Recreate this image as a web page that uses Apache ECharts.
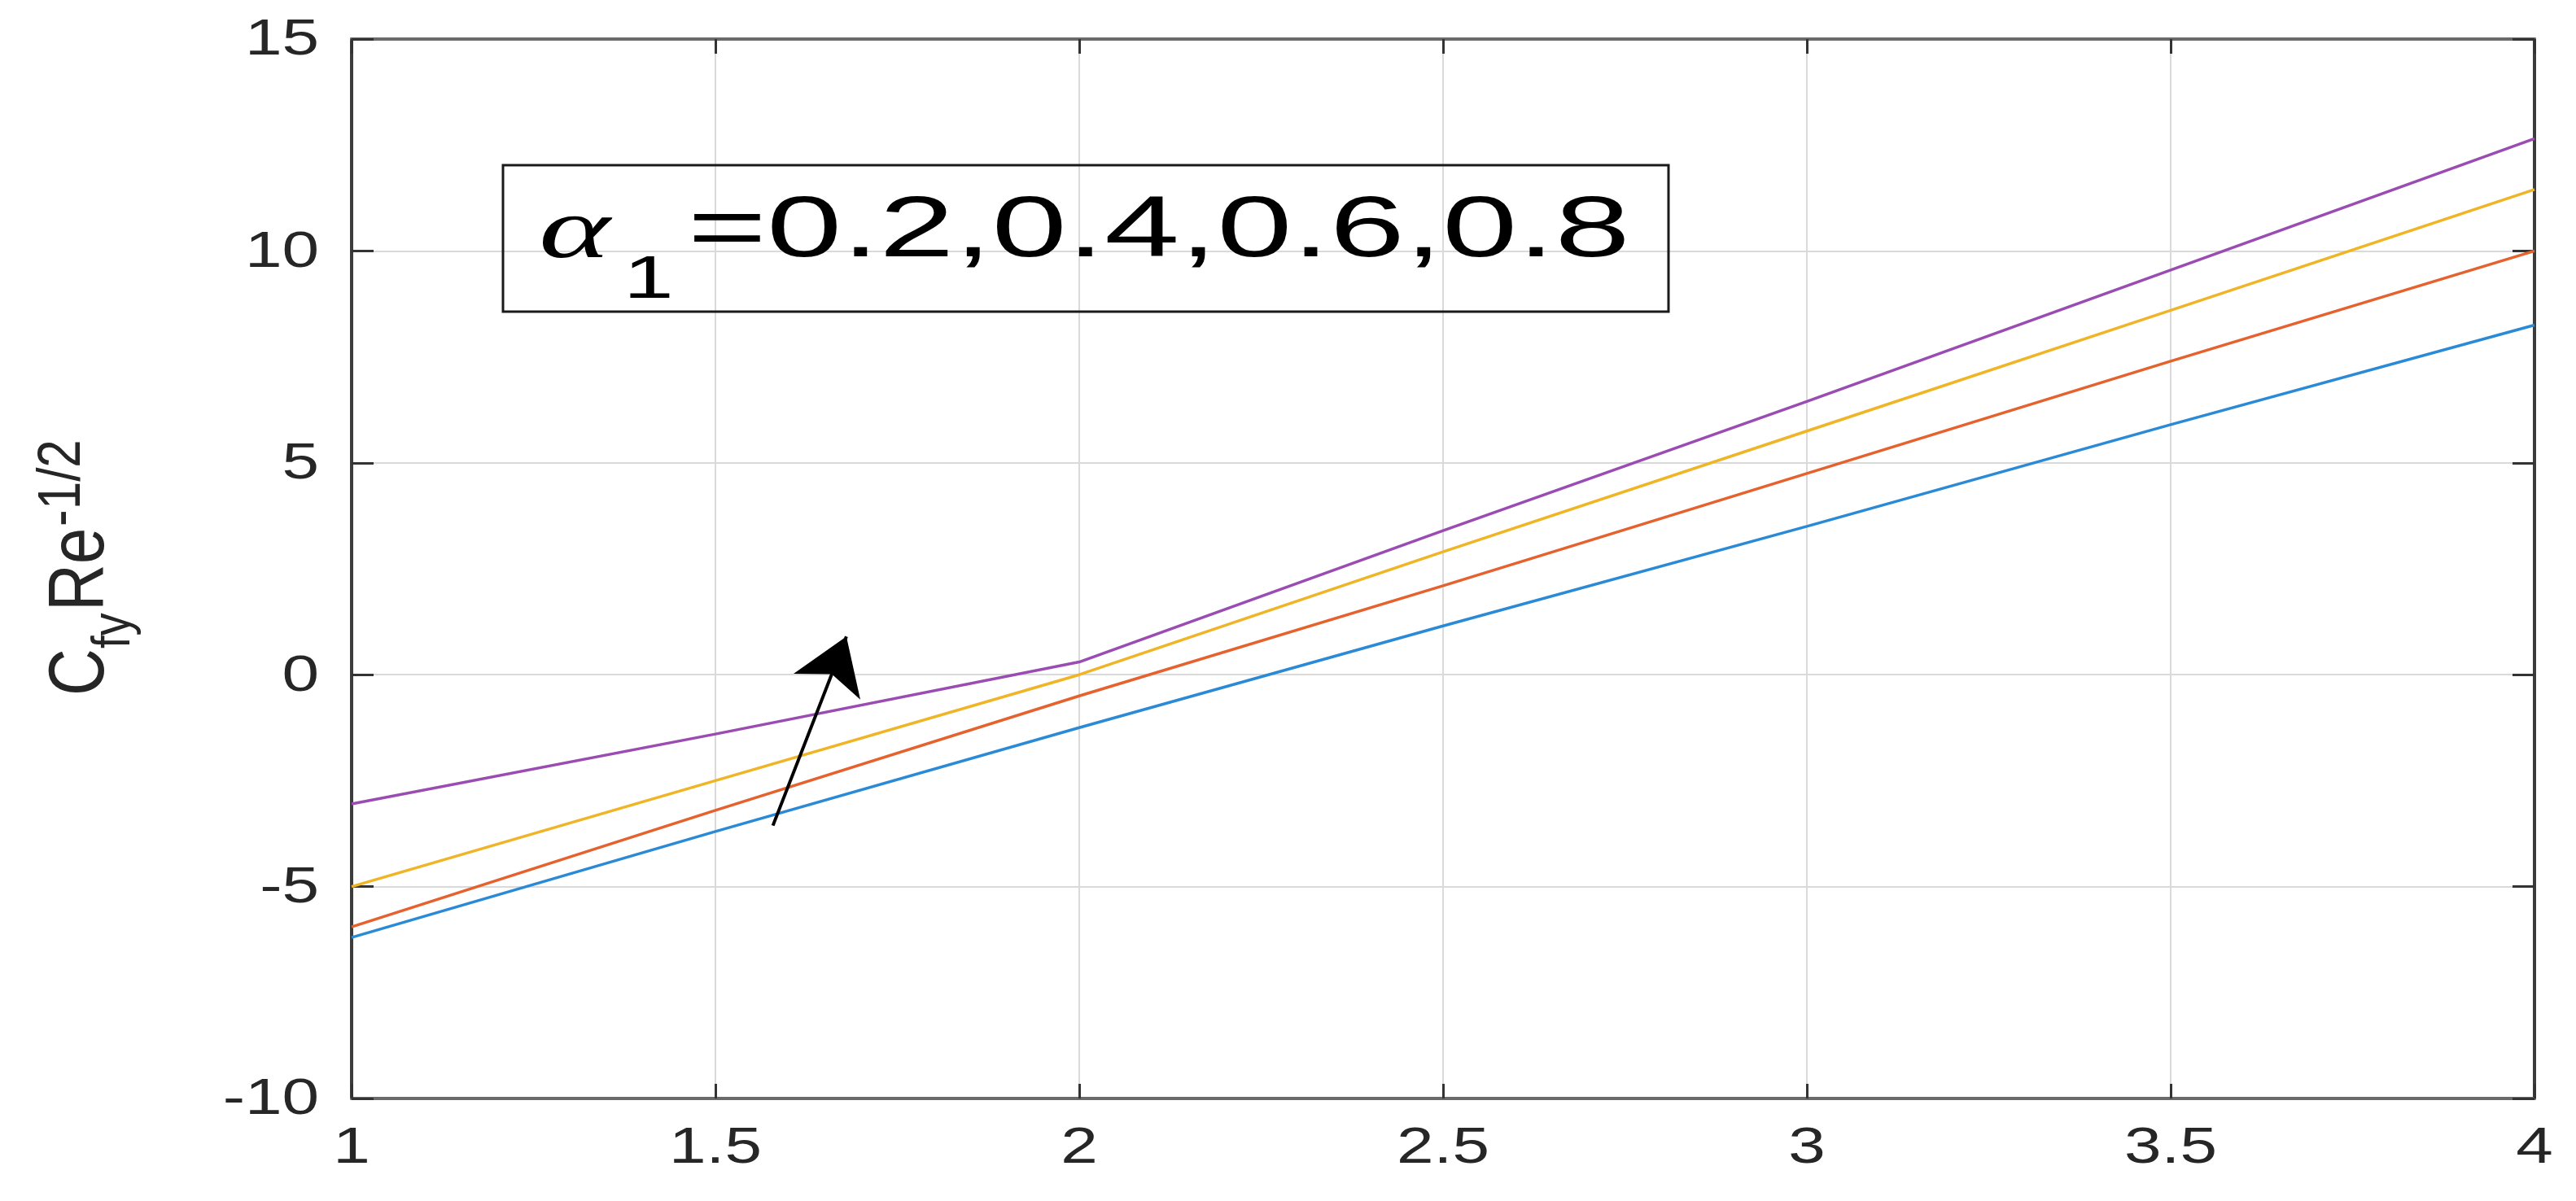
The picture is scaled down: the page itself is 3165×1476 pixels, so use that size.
<!DOCTYPE html>
<html>
<head>
<meta charset="utf-8">
<script src="https://cdn.jsdelivr.net/npm/echarts@6/dist/echarts.min.js"></script>
<style>
  html, body { margin: 0; padding: 0; background: #fff; }
  #chart { width: 3165px; height: 1476px; }
</style>
</head>
<body>
<div id="chart"></div>
<script>
// x positions shared by every curve
var xVals = [1, 1.5, 2, 2.5, 3, 3.5, 4];
// alpha1 = 0.2, 0.4, 0.6, 0.8
var blueVals = [-6.2, -3.7, -1.25, 1.15, 3.5, 5.9, 8.25];
var redVals = [-5.95, -3.2, -0.5, 2.1, 4.75, 7.4, 10.0];
var yellowVals = [-5.0, -2.5, 0.0, 2.9, 5.75, 8.6, 11.45];
var purpleVals = [-3.05, -1.4, 0.3, 3.4, 6.45, 9.55, 12.65];
// tick labels
var xTicks = [1, 1.5, 2, 2.5, 3, 3.5, 4];
var yTicks = [-10, -5, 0, 5, 10, 15];
// arrow drawn in data space (tail, head)
var arrowFrom = [1.579, -3.56];
var arrowTo = [1.68, 0.9];

var axisCol = '#333333';
var font = '"Liberation Sans", Arial, Helvetica, sans-serif';
var stretch = 1.3;   // the source figure is stretched sideways

function pairs(ys) {
	return xVals.map(function (x, i) { return [x, ys[i]]; });
}

var chart = echarts.init(document.getElementById('chart'), null, { renderer: 'canvas' });

function xAx(pos, main) {
	return {
		type: 'value', position: pos, min: 1, max: 4, interval: 0.5,
		axisLine: { show: true, onZero: false, lineStyle: { color: '#6a6a6a', width: 4 } },
		axisTick: { show: true, inside: true, length: 18, lineStyle: { color: axisCol, width: 3 } },
		axisLabel: { show: false },
		splitLine: { show: main, lineStyle: { color: '#dadada', width: 2 } }
	};
}
function yAx(pos, main) {
	return {
		type: 'value', position: pos, min: -10, max: 15, interval: 5,
		axisLine: { show: true, onZero: false, lineStyle: { color: '#3c3c3c', width: 4 } },
		axisTick: { show: true, inside: true, length: 27, lineStyle: { color: axisCol, width: 3 } },
		axisLabel: { show: false },
		splitLine: { show: main, lineStyle: { color: '#dadada', width: 2 } }
	};
}

function curve(name, col, ys) {
	return {
		name: name, type: 'line', data: pairs(ys),
		showSymbol: false, symbol: 'none', smooth: false,
		lineStyle: { color: col, width: 3.5 }, itemStyle: { color: col },
		z: 3
	};
}

var series = [
	curve('0.2', '#2b8ad6', blueVals),
	curve('0.4', '#e5622e', redVals),
	curve('0.6', '#efb526', yellowVals),
	curve('0.8', '#9a4cb2', purpleVals)
];
// the arrow across the four curves
series[3].markLine = {
	silent: true,
	animation: false,
	symbol: ['none', 'arrow'],
	symbolSize: 66,
	label: { show: false },
	lineStyle: { color: '#000', width: 4, type: 'solid' },
	data: [[{ coord: arrowFrom }, { coord: arrowTo }]]
};

chart.setOption({
	animation: false,
	backgroundColor: '#fff',
	grid: { left: 432, right: 51, top: 48, bottom: 126, containLabel: false },
	xAxis: [xAx('bottom', true), xAx('top', false)],
	yAxis: [yAx('left', true), yAx('right', false)],
	series: series
});

// tick labels, placed with the axes' own scales
var labs = [];
var yBottom = chart.convertToPixel({ yAxisIndex: 0 }, -10);
var xLeft = chart.convertToPixel({ xAxisIndex: 0 }, 1);
xTicks.forEach(function (v) {
	labs.push({ type: 'text', x: chart.convertToPixel({ xAxisIndex: 0 }, v), y: yBottom + 62, scaleX: stretch,
		style: { text: String(v), fontSize: 63, fontFamily: font, fill: '#262626', align: 'center', verticalAlign: 'middle' } });
});
yTicks.forEach(function (v) {
	labs.push({ type: 'text', x: xLeft - 40, y: chart.convertToPixel({ yAxisIndex: 0 }, v) + 2, scaleX: stretch,
		style: { text: String(v), fontSize: 63, fontFamily: font, fill: '#262626', align: 'right', verticalAlign: 'middle' } });
});

// rotated y title pieces
function yTitle(txt, size, x, y) {
	return { type: 'text', x: x, y: y, rotation: Math.PI / 2, scaleY: 1.2,
		style: { text: txt, fontSize: size, fontFamily: font, fill: '#262626', align: 'left', verticalAlign: 'middle' } };
}

var deco = [
	// annotation box
	{ type: 'rect', z: 20, shape: { x: 618, y: 203, width: 1432, height: 180 },
	  style: { fill: 'none', stroke: '#1a1a1a', lineWidth: 3 } },
	{ type: 'text', z: 21, x: 662, y: 288, scaleX: 1.59,
	  style: { text: 'α', fontSize: 105, fontStyle: 'italic', fontFamily: '"Liberation Serif", "DejaVu Serif", serif', fill: '#000', verticalAlign: 'middle' } },
	{ type: 'text', z: 21, x: 766, y: 346, scaleX: 1.5,
	  style: { text: '1', fontSize: 74, fontFamily: font, fill: '#000', verticalAlign: 'middle' } },
	{ type: 'text', z: 21, x: 845, y: 286, scaleX: 1.58,
	  style: { text: '=0.2,0.4,0.6,0.8', fontSize: 105, fontFamily: font, fill: '#000', verticalAlign: 'middle' } },
	yTitle('C', 80, 101, 855),
	yTitle('fy', 56, 140, 797),
	yTitle('Re', 80, 101, 751),
	yTitle('-1/2', 62, 77, 647)
];

chart.setOption({ graphic: deco.concat(labs) });
</script>
</body>
</html>
